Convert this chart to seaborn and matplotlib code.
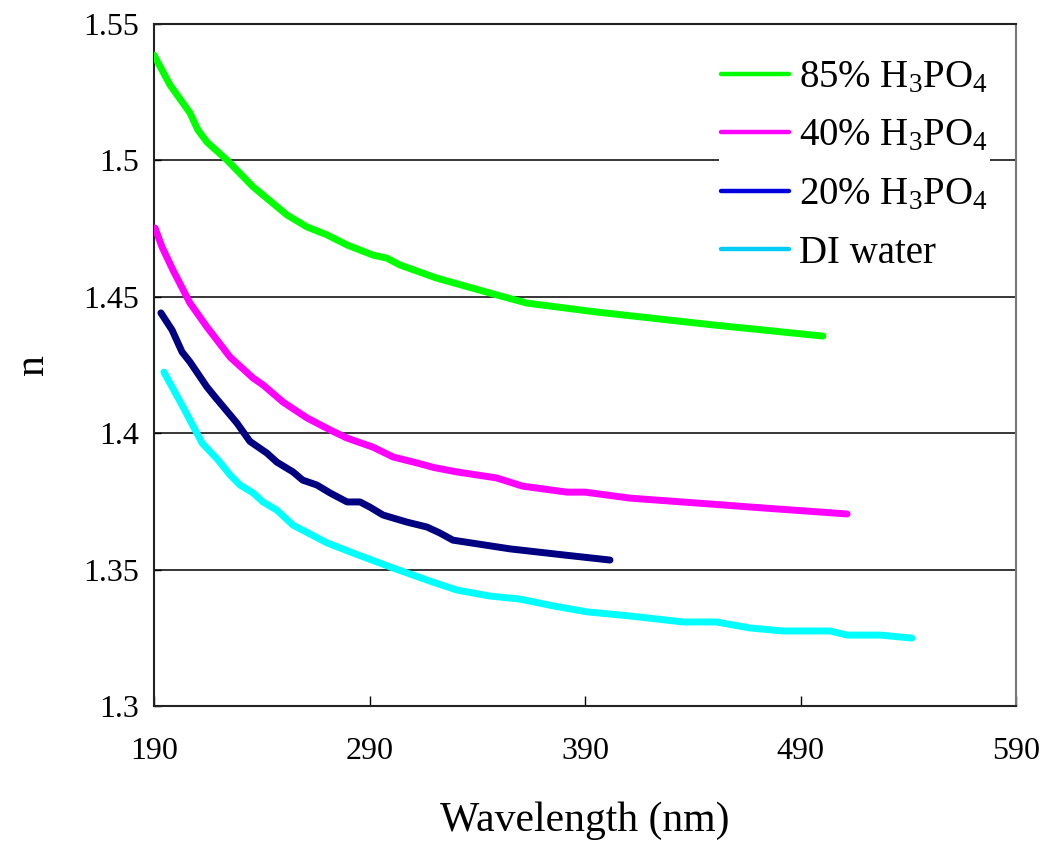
import matplotlib
matplotlib.use("Agg")
import matplotlib.pyplot as plt
import seaborn as sns
import pandas as pd
from matplotlib.lines import Line2D

# ---- data ----
wl_85 = [190, 197.4, 206.7, 210.4, 214.6, 223.9, 236, 240.6, 251.7, 261, 270.3, 279.6,
         291.6, 298, 304, 321, 349, 363, 395.6, 449.4, 500.4]
n_85 = [1.5386, 1.5277, 1.5174, 1.5111, 1.5067, 1.5001, 1.4903, 1.4873, 1.4800, 1.4756,
        1.4727, 1.4690, 1.4653, 1.4642, 1.4617, 1.4569, 1.4507, 1.4477, 1.4444, 1.4397, 1.4356]

wl_40 = [190.5, 193.7, 198.8, 206.7, 214.6, 225.3, 236, 240.6, 249.9, 261, 271.7, 279.6,
         291.6, 300.9, 312, 320, 330.6, 349, 361, 381.6, 390, 410.9, 442, 472.6, 511.6]
n_40 = [1.4752, 1.4683, 1.4598, 1.4477, 1.4389, 1.4279, 1.4202, 1.4177, 1.4114, 1.4056,
        1.4012, 1.3982, 1.3949, 1.3913, 1.3891, 1.3874, 1.3858, 1.3836, 1.3806, 1.3784,
        1.3784, 1.3762, 1.3744, 1.3726, 1.3704]

wl_20 = [193.2, 198.4, 203, 206.7, 214.6, 218.3, 228.5, 234.5, 242.4, 247, 254.5, 259,
         265.6, 271.7, 279.6, 285.6, 290.2, 296.3, 307.4, 316.7, 322.7, 328.7, 355.2,
         379.8, 401.6]
n_20 = [1.4441, 1.4378, 1.4298, 1.4261, 1.4169, 1.4133, 1.4037, 1.3970, 1.3927, 1.3894,
        1.3858, 1.3828, 1.3810, 1.3781, 1.3748, 1.3748, 1.3729, 1.3700, 1.3674, 1.3656,
        1.3634, 1.3608, 1.3576, 1.3554, 1.3535]

wl_di = [194.6, 203.5, 212.3, 219.7, 225.3, 229.9, 236, 240.6, 247, 254.5, 270.3, 282.3,
         300.9, 318, 330.6, 345.9, 359.8, 375.2, 391, 410.9, 435.5, 451, 466.6, 481.9,
         503.7, 511.6, 526.9, 541.7]
n_di = [1.4224, 1.4096, 1.3964, 1.3902, 1.3847, 1.3810, 1.3781, 1.3748, 1.3718, 1.3663,
        1.3598, 1.3561, 1.3506, 1.3458, 1.3425, 1.3403, 1.3392, 1.3367, 1.3345, 1.3330,
        1.3308, 1.3308, 1.3286, 1.3275, 1.3275, 1.3260, 1.3260, 1.3249]

labels = ["85% H$_3$PO$_4$", "40% H$_3$PO$_4$", "20% H$_3$PO$_4$", "DI water"]
line_colors = ["#00FF00", "#FF00FF", "#000080", "#00FFFF"]
legend_colors = ["#00FF00", "#FF00FF", "#0000DD", "#00CCF5"]

x_ticks = [190, 290, 390, 490, 590]
y_ticks = [1.3, 1.35, 1.4, 1.45, 1.5, 1.55]
y_tick_labels = ["1.3", "1.35", "1.4", "1.45", "1.5", "1.55"]

# ---- styling ----
sns.set_theme(style="white")
plt.rcParams["font.family"] = ["Liberation Serif", "DejaVu Serif"]
plt.rcParams["mathtext.fontset"] = "custom"
plt.rcParams["mathtext.rm"] = "Liberation Serif"
plt.rcParams["mathtext.it"] = "Liberation Serif:italic"
plt.rcParams["mathtext.bf"] = "Liberation Serif:bold"
plt.rcParams["text.color"] = "black"
plt.rcParams["axes.labelcolor"] = "black"
plt.rcParams["xtick.color"] = "black"
plt.rcParams["ytick.color"] = "black"

fig = plt.figure(figsize=(10.48, 8.41), dpi=100)
ax = fig.add_axes([154 / 1048, 1 - 706 / 841, (1016 - 154) / 1048, (706 - 24) / 841])

series = [(wl_85, n_85), (wl_40, n_40), (wl_20, n_20), (wl_di, n_di)]
for (xs, ys), lab, col in zip(series, labels, line_colors):
    df = pd.DataFrame({"wl": xs, "n": ys})
    sns.lineplot(data=df, x="wl", y="n", ax=ax, color=col, linewidth=5,
                 solid_capstyle="round", solid_joinstyle="round", legend=False,
                 estimator=None, sort=False, zorder=3)

ax.set_xlim(190, 590)
ax.set_ylim(1.3, 1.55)
ax.set_xticks(x_ticks)
ax.set_xticklabels([str(v) for v in x_ticks])
ax.set_yticks(y_ticks)
ax.set_yticklabels(y_tick_labels)

ax.yaxis.grid(True, color="black", linewidth=1.1)
ax.xaxis.grid(False)
ax.set_axisbelow(True)

for side in ["left", "bottom", "top", "right"]:
    ax.spines[side].set_visible(True)
    ax.spines[side].set_color("#222222")
    ax.spines[side].set_linewidth(1.5)
ax.spines["right"].set_color("#777777")

ax.tick_params(axis="x", direction="in", length=7, width=1, colors="black",
               labelsize=23, pad=22, bottom=True)
ax.tick_params(axis="y", direction="in", length=5, width=1, colors="black",
               labelsize=23, pad=11, left=True)

ax.set_xlabel("Wavelength (nm)", fontsize=30, labelpad=26, color="black")
ax.set_ylabel("n", fontsize=30, labelpad=22, color="black")

handles = [Line2D([0], [0], color=c, linewidth=3.2, solid_capstyle="round") for c in legend_colors]
leg = fig.legend(handles, labels, loc="upper left",
                 bbox_to_anchor=(700 / 1048, 1 - 38 / 841),
                 fontsize=28, frameon=True, facecolor="white", edgecolor="none",
                 framealpha=1, borderpad=0.05, handlelength=1.75, handletextpad=0.25,
                 labelspacing=0.55)
for t in leg.get_texts():
    t.set_color("black")

fig.savefig("out.png", dpi=100)
